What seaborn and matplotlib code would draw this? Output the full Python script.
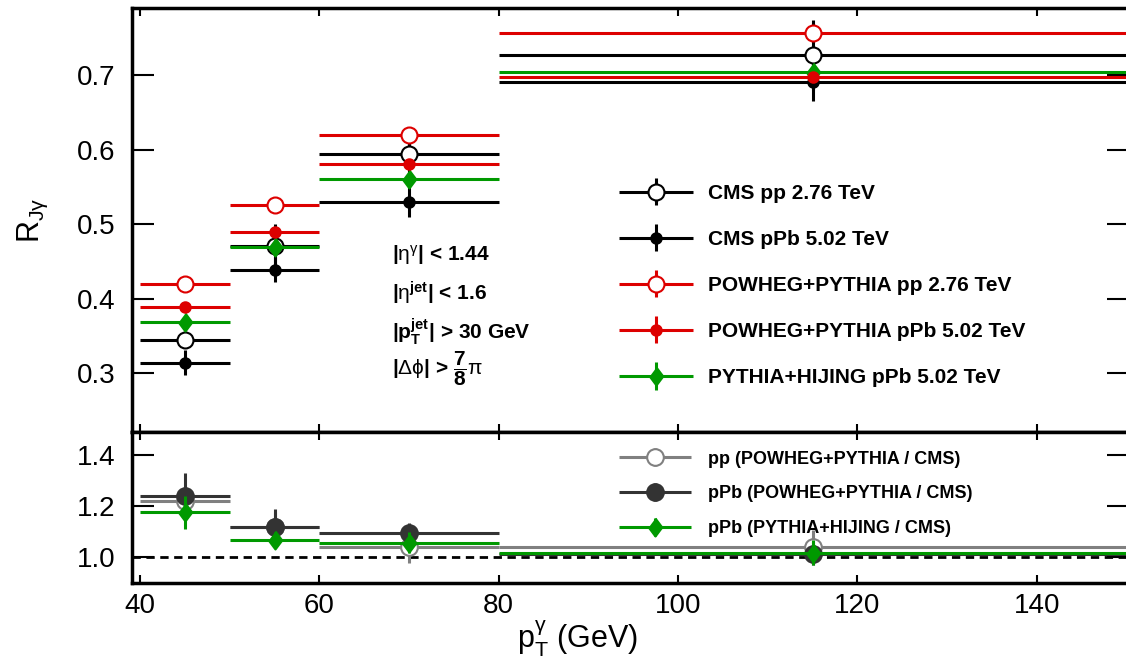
import numpy as np
import pandas as pd
import seaborn as sns
import matplotlib
matplotlib.use("Agg")
from matplotlib import pyplot as plt
from matplotlib.container import ErrorbarContainer
from matplotlib.legend_handler import HandlerErrorbar

# photon pT bins (centre and half width)
pt_center = [45, 55, 70, 115]
pt_halfwidth = [5, 5, 10, 35]

# top panel: R_Jgamma
cms_pp = [0.345, 0.470, 0.594, 0.727]
cms_pp_err = [0.008, 0.030, 0.035, 0.047]
cms_ppb = [0.314, 0.439, 0.530, 0.691]
cms_ppb_err = [0.017, 0.017, 0.021, 0.026]
powheg_pp = [0.420, 0.525, 0.619, 0.756]
powheg_pp_err = [0.002, 0.002, 0.002, 0.002]
powheg_ppb = [0.389, 0.490, 0.580, 0.697]
powheg_ppb_err = [0.004, 0.006, 0.004, 0.004]
hijing_ppb = [0.369, 0.469, 0.560, 0.704]
hijing_ppb_err = [0.008, 0.010, 0.008, 0.010]

# bottom panel: ratios to CMS
ratio_pp = [1.220, 1.116, 1.040, 1.038]
ratio_pp_err = [0.030, 0.060, 0.063, 0.067]
ratio_ppb = [1.240, 1.117, 1.093, 1.012]
ratio_ppb_err = [0.090, 0.073, 0.042, 0.045]
ratio_hijing = [1.176, 1.067, 1.056, 1.017]
ratio_hijing_err = [0.065, 0.030, 0.040, 0.050]

top_labels = ["CMS pp 2.76 TeV", "CMS pPb 5.02 TeV", "POWHEG+PYTHIA pp 2.76 TeV",
              "POWHEG+PYTHIA pPb 5.02 TeV", "PYTHIA+HIJING pPb 5.02 TeV"]
bottom_labels = ["pp (POWHEG+PYTHIA / CMS)", "pPb (POWHEG+PYTHIA / CMS)",
                 "pPb (PYTHIA+HIJING / CMS)"]

red = "#dd0000"
green = "#009900"
gray = "#808080"
dgray = "#333333"
diamond = [(0, 1), (0.75, 0), (0, -1), (-0.75, 0)]

sns.set_style("ticks")
plt.rcParams["font.family"] = ["Liberation Sans", "DejaVu Sans"]
plt.rcParams["mathtext.fontset"] = "custom"
plt.rcParams["mathtext.rm"] = "Liberation Sans"
plt.rcParams["mathtext.it"] = "Liberation Sans:italic"
plt.rcParams["mathtext.bf"] = "Liberation Sans:bold"
for key in ["text.color", "axes.labelcolor", "xtick.color", "ytick.color",
            "axes.edgecolor"]:
    plt.rcParams[key] = "black"

fig = plt.figure(figsize=(11.26, 6.57), dpi=100)
W, H = 1126, 657
ax1 = fig.add_axes([132 / W, 1 - 432 / H, 997 / W, 424 / H])
ax2 = fig.add_axes([132 / W, 1 - 583 / H, 997 / W, 151 / H])

x = np.array(pt_center)
xe = np.array(pt_halfwidth)


def draw(ax, y, yerr, color, marker, ms, mfc, label, z):
    ax.errorbar(x, y, xerr=xe, yerr=yerr, fmt="", marker=marker, ls="none",
                ms=ms, color=color, mfc=mfc, mec=color, mew=1.5,
                elinewidth=2.2, capsize=0, label=label, zorder=z)


draw(ax1, cms_pp, cms_pp_err, "black", "o", 11.5, "white", top_labels[0], 3)
draw(ax1, cms_ppb, cms_ppb_err, "black", "o", 7.5, "black", top_labels[1], 3)
draw(ax1, powheg_pp, powheg_pp_err, red, "o", 11.5, "white", top_labels[2], 4)
draw(ax1, powheg_ppb, powheg_ppb_err, red, "o", 7.5, red, top_labels[3], 5)
draw(ax1, hijing_ppb, hijing_ppb_err, green, diamond, 13, green, top_labels[4], 4)

draw(ax2, ratio_pp, ratio_pp_err, gray, "o", 12, "white", bottom_labels[0], 3)
draw(ax2, ratio_ppb, ratio_ppb_err, dgray, "o", 12, dgray, bottom_labels[1], 4)
draw(ax2, ratio_hijing, ratio_hijing_err, green, diamond, 13, green, bottom_labels[2], 5)
ax2.axhline(1.0, color="black", lw=2, ls=(0, (3, 2)), zorder=2)

for ax in (ax1, ax2):
    ax.set_xlim(39.1, 150.3)
    ax.set_xticks([40, 60, 80, 100, 120, 140])
    ax.tick_params(axis="y", direction="in", length=16, width=1.5, right=True,
                   labelsize=20, pad=12, colors="black")
    ax.tick_params(axis="x", direction="in", length=6, width=1.5, top=True,
                   labelsize=20, pad=7, colors="black")
    for s in ["left", "top", "bottom"]:
        ax.spines[s].set_linewidth(2.5)
        ax.spines[s].set_color("black")
    ax.spines["right"].set_visible(False)

ax1.set_ylim(0.221, 0.79)
ax1.set_yticks([0.3, 0.4, 0.5, 0.6, 0.7])
ax1.tick_params(axis="x", labelbottom=False)
ax2.set_ylim(0.898, 1.49)
ax2.set_yticks([1.0, 1.2, 1.4])
ax2.set_yticklabels(["1.0", "1.2", "1.4"])

ax1.set_ylabel(r"R$_{\mathrm{J\gamma}}$", fontsize=22)
ax1.yaxis.set_label_coords(-0.082, 0.5)
ax2.set_xlabel(r"p$_{\mathrm{T}}^{\mathrm{\gamma}}$ (GeV)", fontsize=22)
ax2.xaxis.set_label_coords(0.447, -0.235)

cuts = [r"|$\mathrm{\eta}^{\mathrm{\gamma}}$| < 1.44",
        r"|$\mathrm{\eta}^{\mathbf{jet}}$| < 1.6",
        r"|$\mathbf{p}_{\mathbf{T}}^{\mathbf{jet}}$| > 30 GeV",
        r"|$\mathrm{\Delta\phi}$| > $\dfrac{\mathbf{7}}{\mathbf{8}}\mathrm{\pi}$"]
for txt, yy in zip(cuts, [0.417, 0.328, 0.236, 0.149]):
    ax1.text(0.261, yy, txt, transform=ax1.transAxes, fontsize=15,
             fontweight="bold", va="center", ha="left")

leg1 = ax1.legend(loc="upper left", bbox_to_anchor=(0.488, 0.585), frameon=False,
                  prop={"weight": "bold", "size": 15},
                  handlelength=3.56, handletextpad=0.72, labelspacing=1.30,
                  borderpad=0, borderaxespad=0,
                  handler_map={ErrorbarContainer: HandlerErrorbar(xerr_size=1.78, yerr_size=0.65)})
leg2 = ax2.legend(loc="upper left", bbox_to_anchor=(0.488, 0.877), frameon=False,
                  prop={"weight": "bold", "size": 13},
                  handlelength=4.0, handletextpad=0.94, labelspacing=0.98,
                  borderpad=0, borderaxespad=0,
                  handler_map={ErrorbarContainer: HandlerErrorbar(xerr_size=2.0, yerr_size=0.5)})

fig.savefig("out.png", dpi=100)
